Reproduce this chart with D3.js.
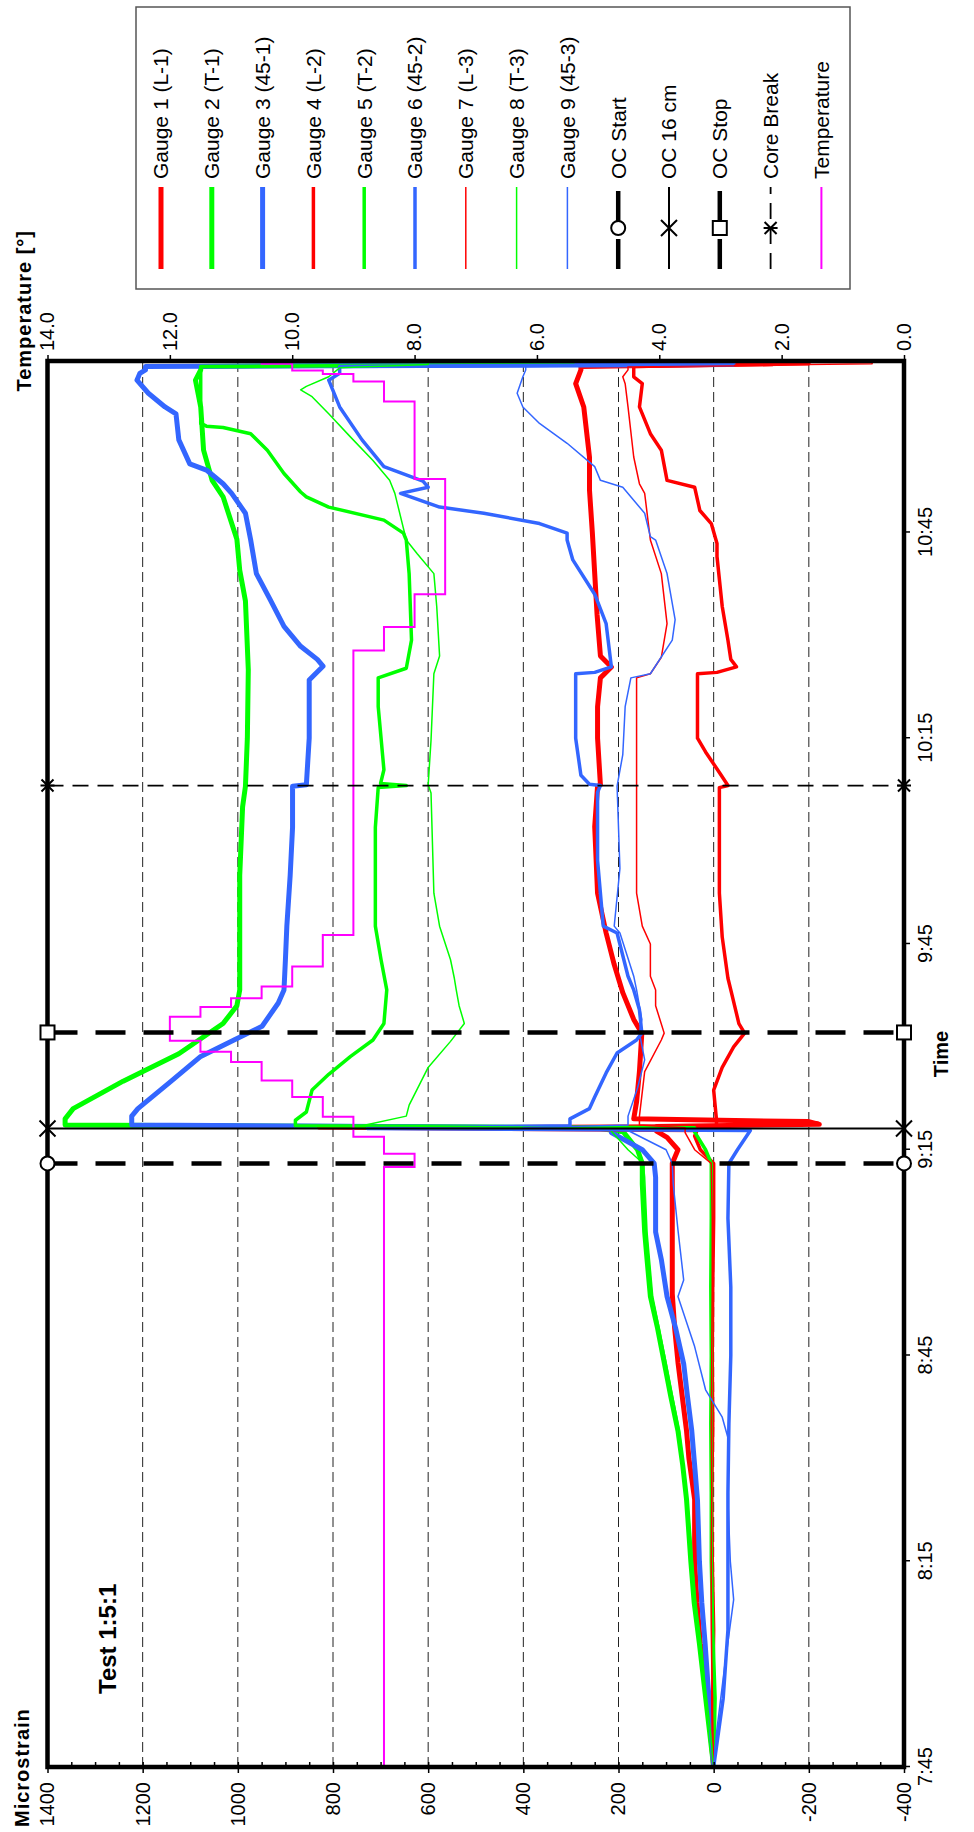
<!DOCTYPE html>
<html>
<head>
<meta charset="utf-8">
<script src="https://cdn.jsdelivr.net/npm/d3@7"></script>
<style>
body{margin:0;background:#fff;}
text{font-family:"Liberation Sans",Arial,sans-serif;}
</style>
</head>
<body>
<script>
// time values are minutes after 7:45, strain in microstrain
var timeTicks = ['7:45','8:15','8:45','9:15','9:45','10:15','10:45'];
var timeEnd = '11:10';
var strainTicks = [-400,-200,0,200,400,600,800,1000,1200,1400];
var tempTicks = [0,2,4,6,8,10,12,14];

var gauge1 = [[0,0],[6,8],[12,17],[18,28],[24,35],[30,40],[39,40],[45,52],[49,57],[54,66],[59,75],[64,82],[69,87],[78,87],[86,87],[88,87],[90,75],[91.8,98],[92.7,120],[93.4,120],[93.7,-222],[94.1,-200],[94.5,168],[97,162],[101.4,156],[107,151],[109,168],[112.9,191],[117,209],[121.6,226],[127.4,244],[137.1,250],[143,244],[143.2,238],[150,244],[154.6,244],[158.8,238],[160.4,215],[162,238],[168,245],[174,250],[180,255],[186.2,261],[191,261],[198.3,273],[201.7,290],[203.7,279],[204.2,279],[204.6,-124],[205,-124]];
var gauge2 = [[0,0],[6,10],[12,20],[18,30],[24,41],[30,48],[39,57],[44,65],[49,75],[54,90],[59,104],[64,118],[68.6,133],[74,140],[78,145],[85,150],[88,150],[90,160],[92.6,190],[93.2,250],[93.6,1363],[94.5,1363],[96,1346],[100,1241],[104,1124],[108.4,1031],[111,1002],[113.3,996],[120,996],[130,996],[140,990],[143,984],[150,980],[160,978],[170,984],[174.5,996],[179,1002],[185.2,1031],[187.6,1054],[192,1072],[198.3,1078],[202.2,1089],[203.7,1078],[204.2,1078],[204.5,541],[205,541]];
var gauge3 = [[0,0],[6,5],[12,12],[18,18],[24,25],[30,30],[38.9,34],[44,40],[49,46],[54,55],[58.8,63],[64,80],[68.6,98],[74,110],[78,122],[86,122],[88,125],[90,150],[92.5,215],[93.2,215],[93.6,1223],[94.9,1223],[96,1210],[100,1140],[103.6,1078],[106,1008],[108,949],[111.4,915],[113.3,903],[117.7,900],[122.6,897],[130,890],[137,885],[143,885],[143.2,856],[150,850],[158.5,850],[160.5,821],[161.5,833],[163.4,868],[166.3,903],[170.2,932],[174,961],[178.9,973],[182.8,984],[185.7,1013],[187.1,1031],[189.1,1066],[190,1101],[193.5,1124],[197.3,1130],[198.3,1153],[200.3,1188],[202.2,1212],[203.2,1206],[203.7,1194],[204.2,1194],[204.5,-42],[205,-42]];
var gauge4 = [[0,0],[10,2],[20,0],[30,3],[40,4],[50,2],[60,3],[70,2],[80,0],[88,0],[90,28],[92,40],[92.8,35],[93.2,830],[93.5,-6],[94.3,-6],[98.7,0],[102,-18],[105,-42],[107,-65],[108.4,-53],[113.3,-36],[115,-30],[121,-18],[127.4,-12],[142.8,-12],[143.1,-30],[145,-12],[148,17],[150,34],[159.4,34],[159.6,-7],[160.4,-48],[161.5,-36],[164.3,-30],[169.2,-18],[176.5,-7],[178.4,-7],[181.3,5],[183.2,29],[186.6,40],[187.6,98],[192,110],[194.4,133],[198.3,156],[201.7,150],[202.7,168],[204.2,168],[204.6,-200],[205,-200]];
var gauge5 = [[0,0],[10,-3],[20,2],[30,5],[40,5],[50,6],[60,5],[70,6],[80,5],[88,5],[90,17],[92.6,40],[93.2,40],[93.5,879],[94.3,879],[95.5,856],[98.7,844],[101,809],[103.6,763],[106,716],[108.4,693],[113.3,687],[117.7,699],[122.6,711],[137,711],[142.8,705],[143.1,646],[143.4,700],[145.4,693],[154.6,705],[158.8,705],[160.2,646],[164.3,635],[174,640],[178.9,646],[179.9,652],[181.8,693],[183.7,809],[185.2,856],[185.9,868],[188.6,903],[192,938],[194.4,973],[195.3,1031],[195.5,1066],[195.9,1078],[200,1078],[203.7,1078],[204.2,1078],[204.5,296],[205,296]];
var gauge6 = [[0,0],[5,-10],[10,-20],[20,-30],[30,-30],[40,-30],[50,-32],[60,-36],[70,-36],[80,-30],[88,-32],[90,-50],[92.8,-77],[93.1,728],[93.5,302],[94.5,302],[96,261],[97.7,250],[101.2,226],[104.1,203],[106,162],[107,151],[110.4,156],[113.3,168],[115.3,180],[121.6,203],[122.6,232],[132.2,244],[142.1,244],[143.1,238],[143.3,261],[144.6,279],[150,290],[159.4,290],[159.6,250],[160.4,215],[166.7,226],[171,250],[176,296],[178.9,308],[179.9,308],[181.3,366],[182.8,483],[183.7,576],[185.7,658],[186.6,600],[187.5,611],[189.6,693],[193.5,739],[198.3,786],[202.2,809],[203.2,786],[204.2,786],[204.5,-42],[205,-42]];
var gauge7 = [[0,0],[10,3],[20,5],[30,5],[40,4],[50,5],[60,4],[70,3],[80,3],[88,5],[90,40],[92.5,60],[93.2,60],[93.6,156],[94.9,156],[101.4,145],[106,110],[107,104],[111,122],[113.3,122],[115.3,133],[120,133],[122.6,150],[127.4,162],[143.2,162],[149.7,162],[158.8,162],[159.4,133],[161.8,110],[166.7,98],[174,110],[178.9,133],[185.7,145],[187.1,156],[191,168],[198.3,180],[201.7,186],[202.7,191],[203.7,180],[204.2,180],[204.6,-333],[205,-333]];
var gauge8 = [[0,0],[6,8],[12,18],[18,28],[24,38],[30,45],[39,55],[49,72],[59,100],[68.6,128],[78,140],[86,145],[88,148],[90,180],[92.7,215],[93.2,215],[93.5,739],[94.9,646],[96.5,640],[102,600],[105.8,553],[108.4,524],[111,535],[113.3,541],[115,545],[117.7,553],[122.6,576],[127.4,588],[142,594],[143.2,600],[149.7,594],[159.4,588],[162,576],[169.2,582],[174,588],[176.9,623],[178.9,646],[185.7,670],[187.6,681],[190.5,716],[193.9,763],[197.3,809],[199.8,844],[200.8,868],[201.3,856],[202.7,809],[204,786],[204.5,600],[205,600]];
var gauge9 = [[0,0],[5,-6],[14.6,-23],[24.4,-42],[30,-35],[38.9,-30],[48,-30],[51,-18],[55,17],[61.3,40],[68.6,75],[71,63],[78.3,75],[85,85],[88,87],[90,100],[92.8,180],[93.2,400],[93.6,180],[94.9,180],[99,160],[103.1,145],[107,156],[109,151],[113.3,162],[115.3,168],[121.6,197],[122.6,209],[131,197],[143,203],[147.6,191],[154.6,186],[158.8,174],[159.4,133],[164.3,87],[167.3,81],[174,98],[178.9,122],[179.4,133],[182.8,145],[186.6,191],[187.6,238],[189.6,250],[193,308],[195.9,366],[198.3,401],[200.3,413],[202.7,401],[203.7,395],[204.2,395],[204.5,-42],[205,-42]];
// temperature, step changes (value holds until the next time)
var temperature = [[0,8.5],[87.5,8.0],[89.4,8.5],[91.9,9.0],[94.8,9.5],[97.7,10.0],[100.1,10.5],[102.8,11.0],[104.3,11.5],[105.9,12.0],[109.4,11.5],[110.8,11.0],[112.1,10.5],[113.8,10.0],[116.7,9.5],[121.3,9.0],[162.8,8.5],[166.2,8.0],[171,7.5],[187.8,8.0],[199.1,8.5],[202,9.0],[203.1,9.5],[203.6,10.0],[204.6,10.5],[205,10.5]];

var eventNames = ['OC Start','OC 16 cm','OC Stop','Core Break'];
var eventTimes = [88.0,93.1,107.1,143.1];

var gaugeNames = ['Gauge 1 (L-1)','Gauge 2 (T-1)','Gauge 3 (45-1)','Gauge 4 (L-2)','Gauge 5 (T-2)','Gauge 6 (45-2)','Gauge 7 (L-3)','Gauge 8 (T-3)','Gauge 9 (45-3)'];
var gauges = [gauge1,gauge2,gauge3,gauge4,gauge5,gauge6,gauge7,gauge8,gauge9];
var gaugeColors = ['#ff0000','#00ff00','#3366ff','#ff0000','#00ff00','#3366ff','#ff0000','#00ff00','#3366ff'];
var gaugeWidths = [5,5,5,3.5,3.5,3.5,1.5,1.5,1.5];

var W = 974, H = 1832;
// chart is laid out landscape then turned a quarter to the left
var L = 65, R = 1471, T = 47.5, B = 904;

var svg = d3.select('body').append('svg').attr('width',W).attr('height',H);
var g = svg.append('g').attr('transform','translate(0,'+H+') rotate(-90)');

var parseT = d3.timeParse('%H:%M');
var t0 = parseT(timeTicks[0]);
function toDate(m){ return new Date(t0.getTime()+m*60000); }

var x = d3.scaleTime().domain([t0,parseT(timeEnd)]).range([L,R]);
var y = d3.scaleLinear().domain([-400,1400]).range([B,T]);
var yT = d3.scaleLinear().domain([0,14]).range([B,T]);

g.append('clipPath').attr('id','plotclip').append('rect')
    .attr('x',L).attr('y',T).attr('width',R-L).attr('height',B-T);

// dashed grid
g.append('g').selectAll('line').data(strainTicks.slice(1,-1)).enter().append('line')
    .attr('x1',L).attr('x2',R).attr('y1',function(d){return y(d);}).attr('y2',function(d){return y(d);})
    .attr('stroke','#222').attr('stroke-width',1).attr('stroke-dasharray','10,5');

// gauges
var line = d3.line().x(function(d){return x(toDate(d[0]));}).y(function(d){return y(d[1]);});
var plot = g.append('g').attr('clip-path','url(#plotclip)');
gauges.forEach(function(s,i){
    plot.append('path').datum(s).attr('d',line).attr('fill','none')
        .attr('stroke',gaugeColors[i]).attr('stroke-width',gaugeWidths[i])
        .attr('stroke-linejoin','round').attr('stroke-linecap','round');
});
var tline = d3.line().curve(d3.curveStepAfter).x(function(d){return x(toDate(d[0]));}).y(function(d){return yT(d[1]);});
plot.append('path').datum(temperature).attr('d',tline).attr('fill','none')
    .attr('stroke','#ff00ff').attr('stroke-width',2);

// event markers
var evStyle = [
    {w:4.5,dash:'30,18',mark:'circle'},
    {w:2,dash:null,mark:'x'},
    {w:4.5,dash:'30,18',mark:'square'},
    {w:1.8,dash:'16,9',mark:'star'}
];
function drawMark(sel,type,cx,cy){
    if(type=='circle'){
        sel.append('circle').attr('cx',cx).attr('cy',cy).attr('r',7)
            .attr('fill','#fff').attr('stroke','#000').attr('stroke-width',2);
    } else if(type=='square'){
        sel.append('rect').attr('x',cx-7).attr('y',cy-7).attr('width',14).attr('height',14)
            .attr('fill','#fff').attr('stroke','#000').attr('stroke-width',2);
    } else {
        var s = type=='x'?8:6;
        sel.append('path').attr('d','M'+(cx-s)+','+(cy-s)+'L'+(cx+s)+','+(cy+s)+'M'+(cx-s)+','+(cy+s)+'L'+(cx+s)+','+(cy-s)
            +(type=='star'?'M'+cx+','+(cy-s-1)+'L'+cx+','+(cy+s+1):''))
            .attr('stroke','#000').attr('stroke-width',2).attr('fill','none');
    }
}
var ev = g.append('g');
eventTimes.forEach(function(t,i){
    var ux = x(toDate(t));
    ev.append('line').attr('x1',ux).attr('x2',ux).attr('y1',T).attr('y2',B)
        .attr('stroke','#000').attr('stroke-width',evStyle[i].w)
        .attr('stroke-dasharray',evStyle[i].dash);
});

// axes
function styleAxis(a,size){
    a.select('.domain').remove();
    a.selectAll('line').attr('stroke','#000').attr('stroke-width',1.5);
    a.selectAll('text').attr('font-size',size).attr('fill','#000')
        .attr('font-family','"Liberation Sans",Arial,sans-serif');
}
var axL = g.append('g').attr('transform','translate('+L+',0)')
    .call(d3.axisLeft(y).tickValues(strainTicks).tickSize(6).tickPadding(9).tickFormat(function(d){return String(d);}));
styleAxis(axL,20);
var axLm = g.append('g').attr('transform','translate('+L+',0)')
    .call(d3.axisLeft(y).tickValues(d3.range(-400,1401,50)).tickSize(-5).tickFormat(''));
styleAxis(axLm,10);
var axR = g.append('g').attr('transform','translate('+R+',0)')
    .call(d3.axisRight(yT).tickValues(tempTicks).tickSize(6).tickPadding(4).tickFormat(d3.format('.1f')));
styleAxis(axR,20);
var axB = g.append('g').attr('transform','translate(0,'+B+')')
    .call(d3.axisBottom(x).tickValues(timeTicks.map(parseT)).tickSize(6).tickPadding(8).tickFormat(d3.timeFormat('%-H:%M')));
styleAxis(axB,20);

g.append('rect').attr('x',L).attr('y',T).attr('width',R-L).attr('height',B-T)
    .attr('fill','none').attr('stroke','#000').attr('stroke-width',4.5);

eventTimes.forEach(function(t,i){
    var ux = x(toDate(t));
    drawMark(ev,evStyle[i].mark,ux,T);
    drawMark(ev,evStyle[i].mark,ux,B);
});
g.node().appendChild(ev.node());

// titles
g.append('text').attr('x',5).attr('y',29).attr('font-size',20).attr('font-weight','bold')
    .attr('letter-spacing',1).text('Microstrain');
g.append('text').attr('x',1602).attr('y',31).attr('text-anchor','end').attr('font-size',20)
    .attr('font-weight','bold').attr('letter-spacing',1).text('Temperature [°]');
g.append('text').attr('x',778).attr('y',948).attr('text-anchor','middle').attr('font-size',20)
    .attr('font-weight','bold').text('Time');
g.append('text').attr('x',138).attr('y',116).attr('font-size',24).attr('font-weight','bold')
    .text('Test 1:5:1');

// legend
var lg = g.append('g');
lg.append('rect').attr('x',1543).attr('y',136).attr('width',282).attr('height',714)
    .attr('fill','#fff').attr('stroke','#555').attr('stroke-width',1.5);
var legItems = gaugeNames.map(function(n,i){return {name:n,color:gaugeColors[i],w:gaugeWidths[i],dash:null,mark:null};});
eventNames.forEach(function(n,i){legItems.push({name:n,color:'#000',w:evStyle[i].w,dash:evStyle[i].dash,mark:evStyle[i].mark});});
legItems.push({name:'Temperature',color:'#ff00ff',w:2,dash:null,mark:null});
legItems.forEach(function(d,i){
    var vy = 161+i*50.8;
    lg.append('line').attr('x1',1563).attr('x2',1645).attr('y1',vy).attr('y2',vy)
        .attr('stroke',d.color).attr('stroke-width',d.w).attr('stroke-dasharray',d.dash);
    if(d.mark) drawMark(lg,d.mark,1604,vy);
    lg.append('text').attr('x',1653).attr('y',vy).attr('dy','0.35em').attr('font-size',21).text(d.name);
});
</script>
</body>
</html>
